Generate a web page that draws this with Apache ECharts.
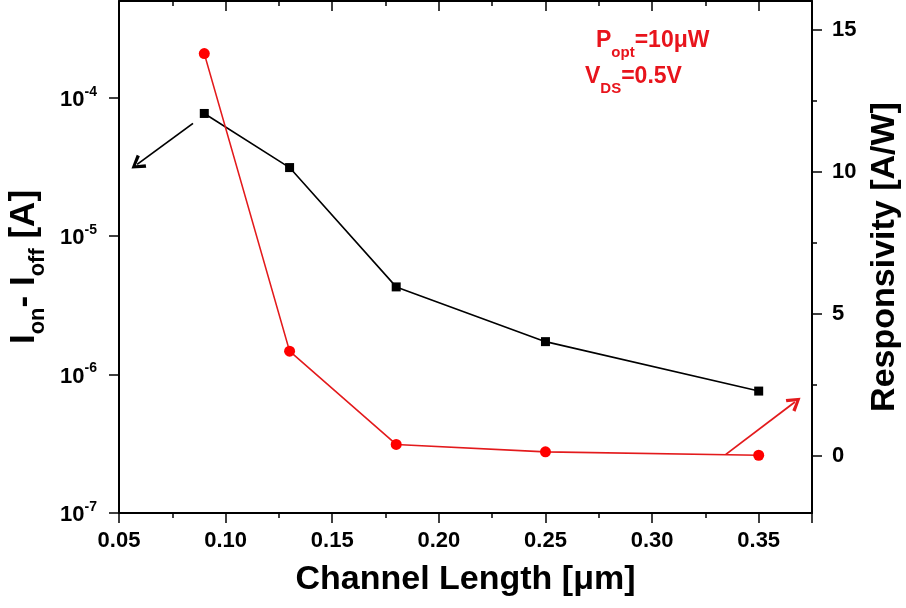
<!DOCTYPE html>
<html>
<head>
<meta charset="utf-8">
<script src="https://cdn.jsdelivr.net/npm/echarts@6/dist/echarts.min.js"></script>
<style>html,body{margin:0;padding:0;background:#fff;}#c{width:906px;height:608px;}</style>
</head>
<body>
<div id="c"></div>
<script>
// ---- data ----
const channelLength = [0.09, 0.13, 0.18, 0.25, 0.35];            // µm
const currentDiff   = [7.7e-5, 3.13e-5, 4.3e-6, 1.73e-6, 7.6e-7];   // A (Ion - Ioff)
const responsivity  = [14.15, 3.69, 0.41, 0.15, 0.03];             // A/W
const leftTicks  = [1e-7, 1e-6, 1e-5, 1e-4];
const rightTicks = [0, 5, 10, 15];
const rightMinorTicks = [2.5, 7.5, 12.5];
// annotation arrows (data coordinates)
const blackArrow = [[0.0847, 6.53e-5], [0.0585, 3.3e-5]];
const redArrow   = [[0.3346, 0.06], [0.367, 1.9]];

const FONT = 'Arial, "Liberation Sans", sans-serif';
const CHEVRON = 'path://M0,10 L5,0 L10,10 L8.1,11.3 L5,4.4 L1.9,11.3 Z';
const chart = echarts.init(document.getElementById('c'), null, {renderer: 'canvas'});

const xCommon = {
  type: 'value', min: 0.05, max: 0.375, interval: 0.05,
  axisLine: {show: true, onZero: false, lineStyle: {color: '#000', width: 2}},
  splitLine: {show: false},
  minorTick: {show: true, splitNumber: 2, length: 5, lineStyle: {color: '#000', width: 1.5}},
  axisTick: {length: 10, lineStyle: {color: '#000', width: 1.5}}
};

const annRich = {
  b: {fontFamily: FONT, fontWeight: 'bold', fontSize: 23, fill: '#e8141c', lineHeight: 24, verticalAlign: 'top'},
  s: {fontFamily: FONT, fontWeight: 'bold', fontSize: 15, fill: '#e8141c', lineHeight: 15, verticalAlign: 'top', padding: [16, 0, 0, 0]}
};

chart.setOption({
  animation: false,
  backgroundColor: '#fff',
  grid: {left: 119, right: 94, top: 1, bottom: 95, containLabel: false, outerBoundsMode: 'none'},
  xAxis: [
    Object.assign({}, xCommon, {
      position: 'bottom',
      name: 'Channel Length [\u03bcm]', nameLocation: 'middle', nameGap: 50,
      nameTextStyle: {fontFamily: FONT, fontWeight: 'bold', fontSize: 34, color: '#000'},
      axisLabel: {fontFamily: FONT, fontWeight: 'bold', fontSize: 22, color: '#000', margin: 17,
        showMaxLabel: false, formatter: v => v.toFixed(2)}
    }),
    Object.assign({}, xCommon, {
      position: 'top',
      axisTick: {inside: true, length: 10, lineStyle: {color: '#000', width: 1.5}},
      minorTick: {show: true, splitNumber: 2, length: 5, lineStyle: {color: '#000', width: 1.5}},
      axisLabel: {show: false}
    })
  ],
  yAxis: [
    {
      type: 'log', logBase: 10, min: 1e-7, max: 5e-4, position: 'left',
      axisLine: {show: true, onZero: false, lineStyle: {color: '#000', width: 2}},
      splitLine: {show: false},
      axisTick: {show: true, length: 10, customValues: leftTicks, lineStyle: {color: '#000', width: 1.5}},
      axisLabel: {
        customValues: leftTicks, margin: 22,
        formatter: v => '{b|10}{s|' + Math.round(Math.log10(v)) + '}',
        rich: {
          b: {fontFamily: FONT, fontWeight: 'bold', fontSize: 22, color: '#000', lineHeight: 26, verticalAlign: 'bottom'},
          s: {fontFamily: FONT, fontWeight: 'bold', fontSize: 14, color: '#000', lineHeight: 14, verticalAlign: 'top'}
        }
      },
      name: '{b|I}{s|on}{b|- I}{s|off}{b| [A]}',
      nameLocation: 'middle', nameGap: 70,
      nameTextStyle: {
        padding: [0, 20, 0, 0],
        rich: {
          b: {fontFamily: FONT, fontWeight: 'bold', fontSize: 35, color: '#000', lineHeight: 36, verticalAlign: 'top'},
          s: {fontFamily: FONT, fontWeight: 'bold', fontSize: 22, color: '#000', lineHeight: 22, verticalAlign: 'top', padding: [20, 0, 0, 0]}
        }
      }
    },
    {
      type: 'value', min: -2, max: 16, position: 'right',
      axisLine: {show: true, onZero: false, lineStyle: {color: '#000', width: 2}},
      splitLine: {show: false},
      axisTick: {show: true, length: 10, customValues: rightTicks, lineStyle: {color: '#000', width: 1.5}},
      axisLabel: {customValues: rightTicks, margin: 20, fontFamily: FONT, fontWeight: 'bold', fontSize: 22, color: '#000'},
      name: 'Responsivity [A/W]', nameLocation: 'middle', nameGap: 52,
      nameTextStyle: {fontFamily: FONT, fontWeight: 'bold', fontSize: 34, color: '#000'}
    },
    {
      type: 'value', min: -2, max: 16, position: 'right',
      axisLine: {show: false},
      splitLine: {show: false},
      axisTick: {show: true, length: 5, customValues: rightMinorTicks, lineStyle: {color: '#000', width: 1.5}},
      axisLabel: {show: false}
    }
  ],
  graphic: [
    {type: 'text', left: 596, top: 29, silent: true, style: {text: '{b|P}{s|opt}{b|=10\u03bcW}', rich: annRich}},
    {type: 'text', left: 585, top: 65, silent: true, style: {text: '{b|V}{s|DS}{b|=0.5V}', rich: annRich}}
  ],
  series: [
    {
      name: 'Ion - Ioff', type: 'line', xAxisIndex: 0, yAxisIndex: 0,
      data: channelLength.map((x, i) => [x, currentDiff[i]]),
      symbol: 'rect', symbolSize: 9,
      itemStyle: {color: '#000'},
      lineStyle: {color: '#000', width: 1.6},
      markLine: {
        silent: true, symbol: ['none', CHEVRON], symbolSize: [16, 14],
        label: {show: false},
        lineStyle: {color: '#000', width: 1.8, type: 'solid'},
        itemStyle: {color: '#000'},
        data: [[{coord: blackArrow[0]}, {coord: blackArrow[1]}]]
      }
    },
    {
      name: 'Responsivity', type: 'line', xAxisIndex: 0, yAxisIndex: 1,
      data: channelLength.map((x, i) => [x, responsivity[i]]),
      symbol: 'circle', symbolSize: 11,
      itemStyle: {color: '#ff0000'},
      lineStyle: {color: '#e31a1c', width: 1.6},
      markLine: {
        silent: true, symbol: ['none', CHEVRON], symbolSize: [16, 14],
        label: {show: false},
        lineStyle: {color: '#e31a1c', width: 1.8, type: 'solid'},
        itemStyle: {color: '#e31a1c'},
        data: [[{coord: redArrow[0]}, {coord: redArrow[1]}]]
      }
    }
  ]
});
</script>
</body>
</html>
